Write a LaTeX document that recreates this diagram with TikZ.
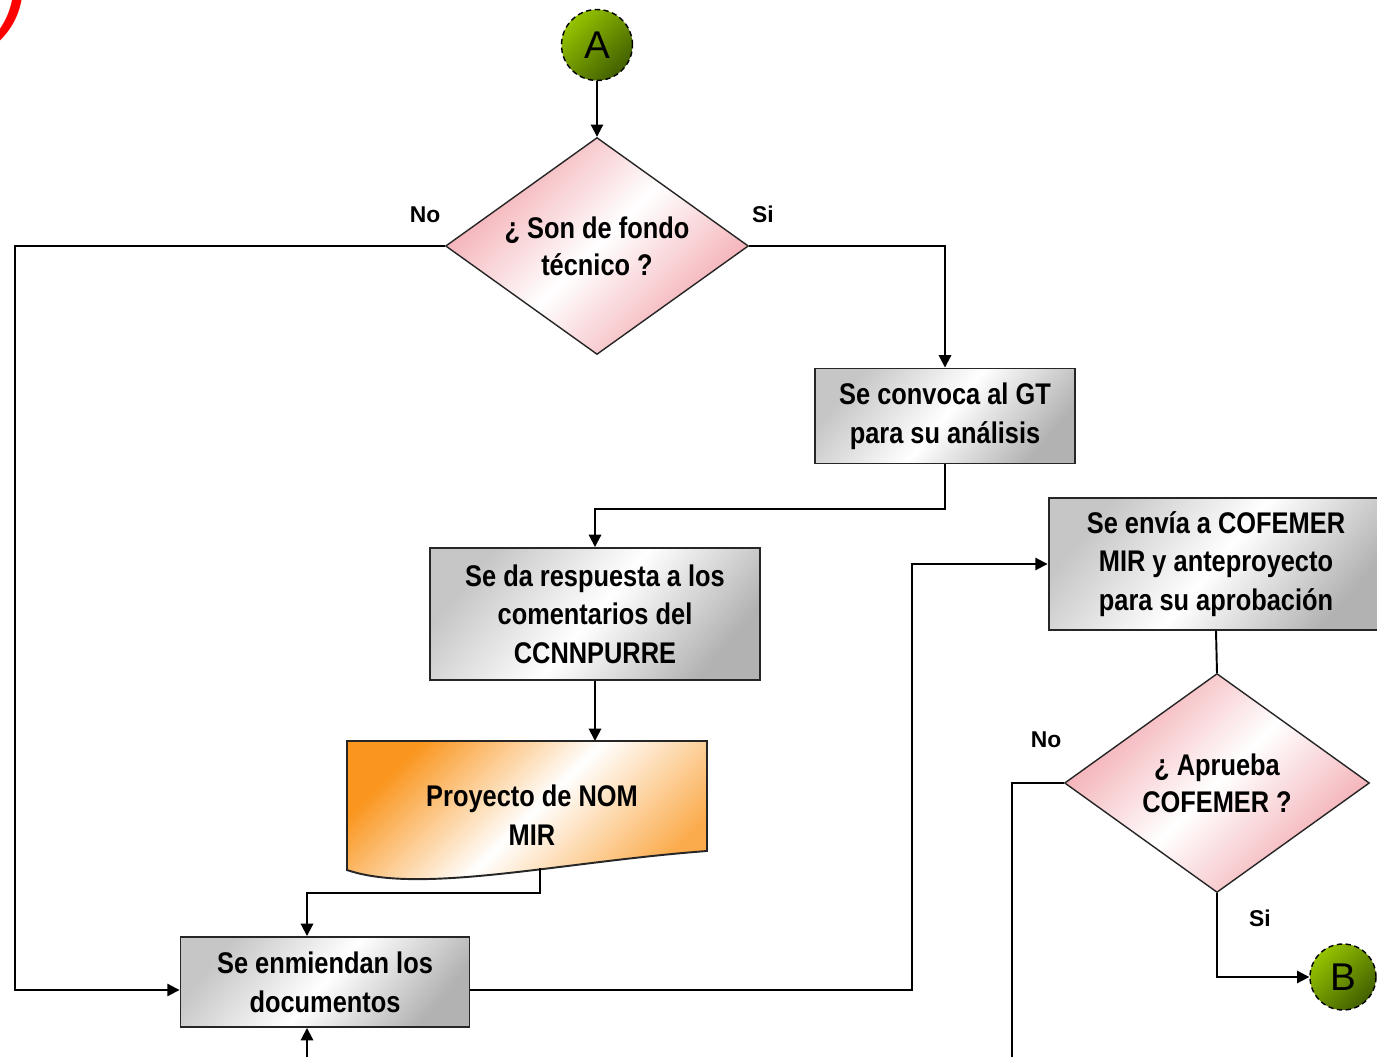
\documentclass[tikz,border=0pt]{standalone}
\usepackage{fontspec}
\setsansfont{Liberation Sans}[FakeStretch=0.85]
\newfontfamily\labelfont{Liberation Sans}
\usepackage{tikz}
\usetikzlibrary{positioning, arrows.meta, shapes.geometric}

\definecolor{pinkfill}{RGB}{242,165,172}
\definecolor{orangefill}{RGB}{250,150,30}
\definecolor{greenlight}{RGB}{150,195,0}
\definecolor{greendark}{RGB}{65,95,0}

\begin{document}
\begin{tikzpicture}[
    x=0.02cm, y=-0.02cm,
    node distance=0.6cm,
    box/.style={rectangle, draw=black!85, line width=1.1pt, left color=gray!45, right color=gray!60, middle color=white, shading angle=50, font=\sffamily\bfseries\fontsize{17}{22}\selectfont, align=center, inner sep=2pt},
    decision/.style={diamond, aspect=1.4, draw=black!85, line width=0.8pt, left color=pinkfill, right color=pinkfill, middle color=white, shading angle=45, font=\sffamily\bfseries\fontsize{17}{21}\selectfont, align=center, inner sep=0pt},
    docshape/.style={draw=black!85, line width=1.1pt, left color=orangefill, right color=orangefill!80, middle color=white, shading angle=45},
    doctext/.style={font=\sffamily\bfseries\fontsize{17}{22}\selectfont, align=center, inner sep=0pt},
    connector/.style={circle, draw=black, densely dashed, line width=0.8pt, left color=greenlight, right color=greendark, shading angle=45, font=\labelfont\fontsize{22}{22}\selectfont, minimum size=1.42cm, inner sep=0pt},
    lbl/.style={font=\labelfont\bfseries\fontsize{13}{13}\selectfont, inner sep=0pt},
    arrow/.style={-{Triangle[length=7pt, width=7pt]}, line width=1.1pt},
    line/.style={line width=1.1pt}
]
    \useasboundingbox (0,0) rectangle (1377,1057);
    \fill[white] (0,0) rectangle (1377,1057);

    % Fragment in the corner
    \node[text=red, font=\labelfont\itshape\fontsize{60}{60}\selectfont, anchor=base west, inner sep=0pt] (paren) at (-6,26) {)};

    % Top column
    \node[connector] (A) at (597,45) {A};
    \node[decision, minimum width=6.06cm, minimum height=4.34cm] (fondo) at (597,246) {¿ Son de fondo\\técnico ?};
    \draw[arrow] (A) -- (fondo.north);
    \node[lbl] (fondono) at (425,215) {No};
    \node[lbl] (fondosi) at (763,214) {Si};

    % Working group
    \node[box, minimum width=5.2cm, minimum height=1.9cm] (convoca) at (945,416) {Se convoca al GT\\para su análisis};
    \draw[arrow] (fondo.east) -| (convoca.north);

    \node[box, minimum width=6.6cm, minimum height=2.64cm] (respuesta) at (595,614) {Se da respuesta a los\\comentarios del\\CCNNPURRE};
    \draw[arrow] (convoca.south) -- ++(0,45) -| (respuesta.north);

    % Document
    \path[docshape] (347,741) -- (707,741) -- (707,851) .. controls (560,862) and (420,895) .. (347,870) -- cycle;
    \node[doctext] (proyecto) at (532,815) {Proyecto de NOM\\MIR};
    \coordinate (doctop) at (595,741);
    \coordinate (docout) at (540,868);
    \draw[arrow] (respuesta.south) -- (doctop);

    % Amendments
    \node[box, minimum width=5.78cm, minimum height=1.8cm] (enmienda) at (325,982) {Se enmiendan los\\documentos};
    \draw[arrow] (docout) -- ++(0,25) -| ([xshift=-0.36cm]enmienda.north);
    \draw[arrow] (fondo.west) -- ++(-430,0) |- ([yshift=-0.16cm]enmienda.west);
    \coordinate (abajo) at (307,1070);
    \draw[arrow] (abajo) -- ([xshift=-0.36cm]enmienda.south);

    % COFEMER
    \node[box, minimum width=6.7cm, minimum height=2.64cm] (cofemer) at (1216,564) {Se envía a COFEMER\\MIR y anteproyecto\\para su aprobación};
    \draw[arrow] ([yshift=-0.16cm]enmienda.east) -- ++(442,0) |- (cofemer.west);

    \node[decision, minimum width=6.1cm, minimum height=4.38cm] (aprueba) at (1217,783) {¿ Aprueba\\COFEMER ?};
    \draw[line] (cofemer.south) -- (aprueba.north);
    \node[lbl] (apruebano) at (1046,740) {No};
    \node[lbl] (apruebasi) at (1260,918) {Si};
    \coordinate (noout) at (1012,1070);
    \draw[line] (aprueba.west) -| (noout);

    \node[connector, minimum size=1.32cm] (B) at (1343,977) {B};
    \draw[arrow] (aprueba.south) |- (B.west);

\end{tikzpicture}
\end{document}
